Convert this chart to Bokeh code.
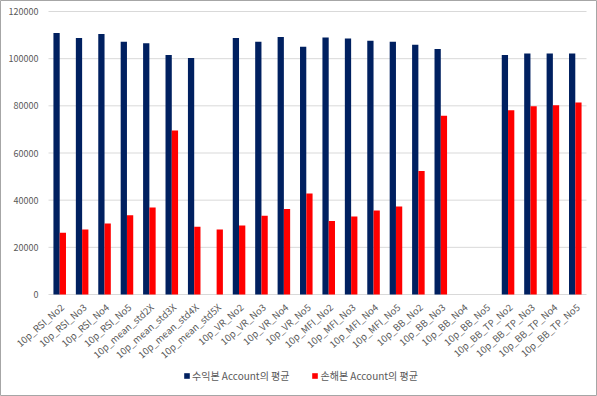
from bokeh.plotting import figure
from bokeh.models import ColumnDataSource, Legend, LegendItem, Range1d
from bokeh.core.properties import value
from bokeh.embed import file_html
from bokeh.resources import INLINE

categories = [
    "10p_RSI_No2", "10p_RSI_No3", "10p_RSI_No4", "10p_RSI_No5",
    "10p_mean_std2X", "10p_mean_std3X", "10p_mean_std4X", "10p_mean_std5X",
    "10p_VR_No2", "10p_VR_No3", "10p_VR_No4", "10p_VR_No5",
    "10p_MFI_No2", "10p_MFI_No3", "10p_MFI_No4", "10p_MFI_No5",
    "10p_BB_No2", "10p_BB_No3", "10p_BB_No4", "10p_BB_No5",
    "10p_BB_TP_No2", "10p_BB_TP_No3", "10p_BB_TP_No4", "10p_BB_TP_No5",
]
profit_avg = [
    110900, 108800, 110500, 107200,
    106500, 101600, 100300, 0,
    108800, 107200, 109200, 105100,
    109000, 108600, 107600, 107200,
    105900, 104100, 0, 0,
    101600, 102200, 102200, 102200,
]
loss_avg = [
    26200, 27600, 30100, 33600,
    36900, 69500, 28700, 27600,
    29300, 33400, 36300, 42800,
    31200, 33100, 35600, 37300,
    52400, 75800, 0, 0,
    78100, 79800, 80200, 81400,
]
series_names = ["수익본 Account의 평균", "손해본 Account의 평균"]
y_ticks = [0, 20000, 40000, 60000, 80000, 100000, 120000]
y_tick_labels = [str(t) for t in y_ticks]

n = len(categories)
idx = list(range(n))
src = ColumnDataSource(dict(
    x=idx, cat=categories, profit=profit_avg, loss=loss_avg,
    x_profit=[i - 0.14 for i in idx], x_loss=[i + 0.14 for i in idx],
    x_label=[i + 0.12 for i in idx], base=[0] * n,
))
grid_src = ColumnDataSource(dict(y=y_ticks, label=y_tick_labels,
                                 x0=[-0.5] * len(y_ticks), x1=[n - 0.5] * len(y_ticks)))

FONT = "Noto Sans CJK KR"
GRAY = "#595959"

W, H = 597, 396
PLOT_L, PLOT_R, PLOT_T, PLOT_B = 48, 586, 11, 294   # plot area in pixels
unit = (PLOT_R - PLOT_L) / n
ppy = (PLOT_B - PLOT_T) / y_ticks[-1]
x_range = Range1d(-0.5 - PLOT_L / unit, n - 0.5 + (W - PLOT_R) / unit)
y_range = Range1d(-(H - PLOT_B) / ppy, y_ticks[-1] + PLOT_T / ppy)

p = figure(x_range=x_range, y_range=y_range,
           frame_width=W, frame_height=H,
           output_backend="svg", toolbar_location=None,
           min_border_left=0, min_border_right=0, min_border_top=0, min_border_bottom=0)
p.xaxis.visible = False
p.yaxis.visible = False
p.xgrid.visible = False
p.ygrid.visible = False
p.outline_line_color = "#A6A6A6"
p.outline_line_width = 1

# horizontal gridlines (and the category axis line at zero)
p.segment(x0="x0", x1="x1", y0="y", y1="y", source=grid_src,
          line_color="#D9D9D9", line_width=1)

r1 = p.vbar(x="x_profit", top="profit", width=0.28, source=src,
            fill_color="#002060", line_color=None)
r2 = p.vbar(x="x_loss", top="loss", width=0.28, source=src,
            fill_color="#FF0000", line_color=None)

# value-axis tick labels
p.text(x="x0", y="y", text="label", source=grid_src, x_offset=-10,
       text_align="right", text_baseline="middle",
       text_font=value(FONT), text_font_size="9px", text_color=GRAY)

# category tick labels
p.text(x="x_label", y="base", text="cat", source=src,
       angle=0.72, text_align="right", text_baseline="middle",
       y_offset=11, text_font=value(FONT), text_font_size="9.5px", text_color=GRAY)

legend = Legend(items=[LegendItem(label=series_names[0], renderers=[r1]),
                       LegendItem(label=series_names[1], renderers=[r2])],
                orientation="horizontal", location=(183, 13),
                label_text_font=FONT, label_text_font_size="10px",
                label_text_color=GRAY, glyph_width=7, glyph_height=7,
                label_standoff=2, spacing=22, border_line_color=None,
                background_fill_alpha=0, padding=0, margin=0, label_height=12)
p.add_layout(legend, "center")

open("out.html", "w").write(file_html(p, INLINE))
